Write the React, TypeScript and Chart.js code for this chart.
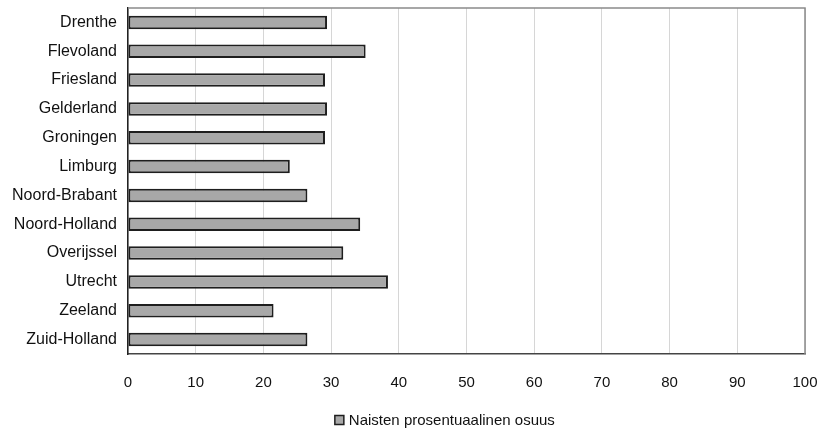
import React, { useEffect, useRef } from "react";
import { Chart, registerables } from "chart.js";

Chart.register(...registerables);

const categories = [
  "Drenthe",
  "Flevoland",
  "Friesland",
  "Gelderland",
  "Groningen",
  "Limburg",
  "Noord-Brabant",
  "Noord-Holland",
  "Overijssel",
  "Utrecht",
  "Zeeland",
  "Zuid-Holland",
];

const womenShare = [29.4, 35.1, 29.1, 29.4, 29.1, 23.9, 26.5, 34.3, 31.8, 38.4, 21.5, 26.5];

const seriesLabel = "Naisten prosentuaalinen osuus";

const xMin = 0;
const xMax = 100;
const xStep = 10;

const FONT = "'Liberation Sans', Arial, Helvetica, sans-serif";
const BAR_FILL = "#a8a8a8";
const BAR_EDGE = "#1e1e1e";

const frame = {
  id: "frame",
  afterDatasetsDraw(chart: any) {
    const { ctx, chartArea } = chart;
    ctx.save();
    ctx.strokeStyle = "#8a8a8a";
    ctx.lineWidth = 1.5;
    ctx.beginPath();
    ctx.moveTo(chartArea.left, chartArea.top);
    ctx.lineTo(chartArea.right, chartArea.top);
    ctx.lineTo(chartArea.right, chartArea.bottom);
    ctx.stroke();
    ctx.restore();
  },
};

const bottomLegend = {
  id: "bottomLegend",
  afterDraw(chart: any) {
    const { ctx, chartArea } = chart;
    const ds = chart.data.datasets[0];
    ctx.save();
    ctx.font = `15px ${FONT}`;
    const textW = ctx.measureText(ds.label).width;
    const box = 9;
    const gap = 5;
    const total = box + gap + textW;
    const cx = chartArea.left + (chartArea.right - chartArea.left) * 0.468;
    const x0 = cx - total / 2;
    const cy = chartArea.bottom + 66;
    ctx.fillStyle = BAR_FILL;
    ctx.fillRect(x0, cy - box / 2, box, box);
    ctx.strokeStyle = BAR_EDGE;
    ctx.lineWidth = 1.5;
    ctx.strokeRect(x0, cy - box / 2, box, box);
    ctx.fillStyle = "#111";
    ctx.textBaseline = "middle";
    ctx.textAlign = "left";
    ctx.fillText(ds.label, x0 + box + gap, cy + 1);
    ctx.restore();
  },
};

export default function App() {
  const ref = useRef<HTMLCanvasElement | null>(null);

  useEffect(() => {
    if (!ref.current) return;
    const chart = new Chart(ref.current, {
      type: "bar",
      data: {
        labels: categories,
        datasets: [
          {
            label: seriesLabel,
            data: womenShare,
            backgroundColor: BAR_FILL,
            borderColor: BAR_EDGE,
            borderWidth: 2,
            borderSkipped: false,
            categoryPercentage: 1,
            barPercentage: 0.47,
          },
        ],
      },
      options: {
        indexAxis: "y",
        responsive: false,
        animation: false,
        devicePixelRatio: 1,
        layout: { padding: { left: 0, right: 16, top: 8, bottom: 0 } },
        scales: {
          x: {
            min: xMin,
            max: xMax,
            ticks: {
              stepSize: xStep,
              color: "#111",
              padding: 20,
              font: { family: FONT, size: 15 },
            },
            grid: { color: "#d6d6d6", drawTicks: false, lineWidth: 1 },
            border: { display: true, color: "#444", width: 1.5 },
            afterFit(scale: any) {
              scale.height = 82;
              scale.paddingLeft = 0;
              scale.paddingRight = 0;
            },
          },
          y: {
            ticks: {
              color: "#111",
              padding: 11,
              font: { family: FONT, size: 16 },
            },
            grid: { display: false, drawTicks: false },
            border: { display: true, color: "#222", width: 1.5 },
            afterFit(scale: any) {
              scale.width = 128;
              scale.paddingTop = 0;
              scale.paddingBottom = 0;
            },
          },
        },
        plugins: {
          legend: { display: false },
          tooltip: { enabled: false },
        },
      },
      plugins: [frame, bottomLegend],
    });
    return () => chart.destroy();
  }, []);

  return (
    <div style={{ position: "absolute", left: 0, top: 0, width: 821, height: 436, background: "#fff" }}>
      <canvas ref={ref} width={821} height={436} />
    </div>
  );
}
